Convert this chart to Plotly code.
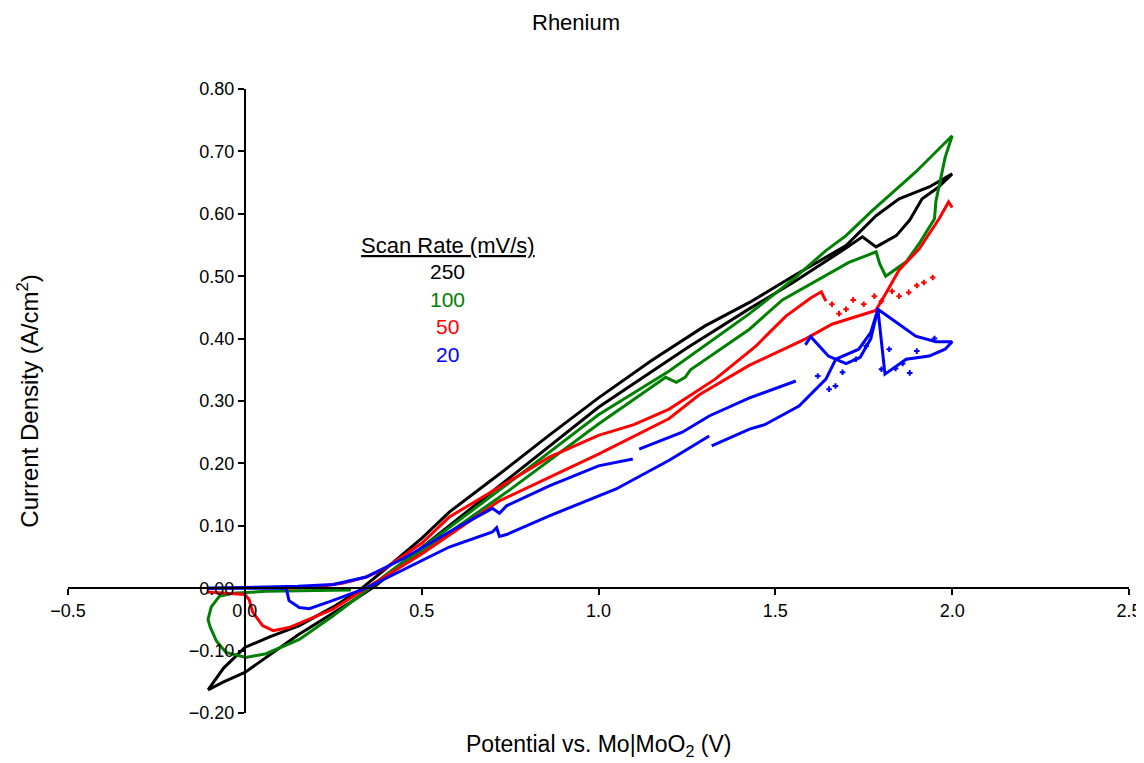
import plotly.graph_objects as go

# 250 mV/s (closed loop)
black_v = [-0.104, -0.06, 0.0, 0.07, 0.154, 0.25, 0.32, 0.40, 0.50, 0.578, 0.72, 0.86, 1.0, 1.15, 1.30, 1.427,
           1.55, 1.70, 1.785, 1.85, 1.935, 2.0, 1.96, 1.915, 1.88, 1.842, 1.785, 1.746, 1.70, 1.55, 1.427, 1.25,
           1.0, 0.75, 0.50, 0.37, 0.30, 0.15, 0.0, -0.06, -0.104]
black_i = [-0.163, -0.128, -0.095, -0.078, -0.060, -0.030, -0.005, 0.032, 0.080, 0.122, 0.183, 0.245, 0.305,
           0.365, 0.420, 0.458, 0.500, 0.549, 0.597, 0.624, 0.643, 0.664, 0.642, 0.624, 0.590, 0.565, 0.547,
           0.563, 0.545, 0.490, 0.448, 0.385, 0.290, 0.178, 0.065, 0.004, -0.022, -0.075, -0.135, -0.150, -0.163]

# 100 mV/s
green_v = [0.30, 0.15, 0.06, -0.035, -0.072, -0.095, -0.104, -0.098, -0.08, -0.053, 0.003, 0.06, 0.154, 0.248,
           0.323, 0.40, 0.50, 0.75, 1.0, 1.2, 1.427, 1.55, 1.643, 1.70, 1.774, 1.897, 2.0, 1.98, 1.954, 1.95,
           1.91, 1.87, 1.812, 1.795, 1.785, 1.708, 1.52, 1.427, 1.26, 1.245, 1.22, 1.19, 1.0, 0.75, 0.5, 0.40, 0.33]
green_i = [-0.003, -0.004, -0.005, -0.008, -0.013, -0.030, -0.050, -0.062, -0.085, -0.103, -0.111, -0.105,
           -0.082, -0.045, -0.013, 0.022, 0.064, 0.170, 0.278, 0.348, 0.440, 0.495, 0.541, 0.565, 0.605, 0.667,
           0.725, 0.690, 0.620, 0.592, 0.555, 0.523, 0.500, 0.520, 0.539, 0.522, 0.462, 0.415, 0.350, 0.338,
           0.330, 0.338, 0.263, 0.158, 0.058, 0.020, -0.005]

# 50 mV/s
red_v = [-0.106, -0.05, 0.0, 0.012, 0.022, 0.05, 0.08, 0.125, 0.248, 0.343, 0.5, 0.72, 1.0, 1.2, 1.285, 1.426,
         1.567, 1.587, 1.66, 1.757, 1.784, 1.81, 1.85, 1.907, 1.963, 1.99, 2.0, None,
         1.643, 1.63, 1.60, 1.53, 1.445, 1.33, 1.2, 1.1, 1.0, 0.861, 0.72, 0.578, 0.5, 0.40, 0.343, 0.276,
         0.2, 0.1]
red_i = [-0.006, -0.008, -0.010, -0.018, -0.038, -0.060, -0.068, -0.063, -0.034, 0.000, 0.055, 0.140, 0.215,
         0.272, 0.310, 0.357, 0.394, 0.400, 0.423, 0.440, 0.445, 0.470, 0.510, 0.544, 0.592, 0.619, 0.610, None,
         0.460, 0.475, 0.465, 0.436, 0.388, 0.335, 0.287, 0.262, 0.245, 0.210, 0.162, 0.114, 0.072, 0.033, 0.018,
         0.008, 0.002, 0.000]
red_dot_v = [1.70, 1.72, 1.75, 1.78, 1.80, 1.83, 1.85, 1.877, 1.90, 1.92, 1.945, 1.66, 1.68]
red_dot_i = [0.447, 0.462, 0.455, 0.468, 0.460, 0.476, 0.468, 0.474, 0.485, 0.490, 0.498, 0.455, 0.440]

# 20 mV/s
blue_v = [-0.106, 0.0, 0.117, 0.125, 0.154, 0.182, 0.248, 0.343, 0.45, 0.578, 0.70, 0.712, 0.72, 0.74, 0.861,
          1.05, 1.2, 1.313, None, 1.32, 1.427, 1.47, 1.567, 1.643, 1.671, 1.736, 1.77, 1.79, 1.80, 1.81, 1.87,
          1.935, 1.98, 2.0, 1.954, 1.897, 1.83, 1.79, 1.77, 1.74, 1.70, 1.65, 1.60, 1.585, None,
          1.558, 1.50, 1.427, 1.313, 1.237, 1.115, None, 1.097, 1.0, 0.861, 0.74, 0.72, 0.70, 0.578, 0.45,
          0.343, 0.25, 0.15, 0.0, -0.106]
blue_i = [0.000, 0.000, 0.000, -0.020, -0.031, -0.033, -0.020, 0.000, 0.030, 0.066, 0.090, 0.097, 0.083, 0.086,
          0.116, 0.159, 0.205, 0.244, None, 0.228, 0.255, 0.262, 0.292, 0.335, 0.367, 0.383, 0.410, 0.447,
          0.400, 0.343, 0.367, 0.372, 0.383, 0.395, 0.395, 0.404, 0.431, 0.447, 0.400, 0.370, 0.360, 0.372,
          0.403, 0.390, None, 0.332, 0.320, 0.305, 0.276, 0.250, 0.223, None, 0.207, 0.196, 0.164, 0.132,
          0.120, 0.128, 0.090, 0.048, 0.018, 0.006, 0.003, 0.001, 0.000]
blue_dot_v = [1.652, 1.69, 1.728, 1.757, 1.822, 1.80, 1.67, 1.62, 1.86, 1.90, 1.95, 1.84, 1.88]
blue_dot_i = [0.319, 0.346, 0.367, 0.388, 0.383, 0.351, 0.324, 0.340, 0.360, 0.380, 0.400, 0.352, 0.345]

rates = ["250", "100", "50", "20"]
colors = ["#000000", "#008000", "#ff0000", "#0000ff"]

font = "Arial, Liberation Sans, sans-serif"

fig = go.Figure()
curves = [(black_v, black_i), (green_v, green_i), (red_v, red_i), (blue_v, blue_i)]
for (v, i), c in zip(curves, colors):
    fig.add_trace(go.Scatter(x=v, y=i, mode="lines", line=dict(color=c, width=3), showlegend=False))
for v, i, c in [(red_dot_v, red_dot_i, colors[2]), (blue_dot_v, blue_dot_i, colors[3])]:
    fig.add_trace(go.Scatter(x=v, y=i, mode="markers", marker=dict(color=c, size=4, symbol="cross-thin",
                  line=dict(color=c, width=2)), showlegend=False))

axis_common = dict(showgrid=False, zeroline=False, showline=True, linecolor="black", linewidth=2,
                   ticks="outside", ticklen=6, tickwidth=2, tickcolor="black", automargin=False,
                   tickfont=dict(family=font, size=18, color="black"), anchor="free")
fig.update_xaxes(range=[-0.5, 2.5], dtick=0.5, tickformat=".1f", position=0.2, **axis_common)
fig.update_yaxes(range=[-0.2, 0.8], dtick=0.1, tickformat=".2f", position=1 / 6, **axis_common)

# figure is offset by the page's 8px body margin, positions are in paper units
ann = [
    dict(text="Rhenium", x=0.479, y=1.107, size=22),
    dict(text="Potential vs. Mo|MoO<sub>2</sub> (V)", x=0.5, y=-0.052, size=23),
    dict(text="Current Density (A/cm<sup>2</sup>)", x=-0.038, y=0.5, size=24, angle=-90),
    dict(text="<u>Scan Rate (mV/s)</u>", x=0.358, y=0.75, size=22),
]
for a in ann:
    fig.add_annotation(text=a["text"], x=a["x"], y=a["y"], xref="paper", yref="paper", showarrow=False,
                       xanchor="center", yanchor="middle", textangle=a.get("angle", 0),
                       font=dict(family=font, size=a["size"], color="black"))
for k, (r, c) in enumerate(zip(rates, colors)):
    fig.add_annotation(text=r, x=0.358, y=0.707 - k * 0.044, xref="paper", yref="paper", showarrow=False,
                       xanchor="center", yanchor="middle", font=dict(family=font, size=21, color=c))

fig.update_layout(width=1136, height=755, paper_bgcolor="white", plot_bgcolor="white",
                  margin=dict(l=60, r=15, t=81, b=50))

fig.write_html("out.html")
